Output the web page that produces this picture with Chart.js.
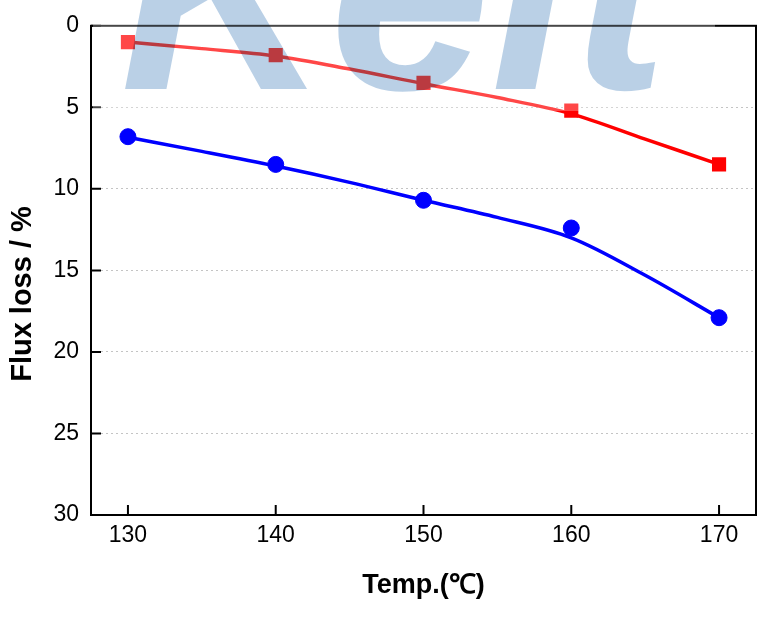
<!DOCTYPE html>
<html>
<head>
<meta charset="utf-8">
<script src="https://cdn.jsdelivr.net/npm/chart.js@4.4.1/dist/chart.umd.min.js"></script>
<style>
  html, body { margin: 0; padding: 0; background: #fff; }
  #wrap { width: 783px; height: 624px; }
</style>
</head>
<body>
<div id="wrap"><canvas id="fluxChart" width="783" height="624"></canvas></div>
<script>
// measured points
const temps = [130, 140, 150, 160, 170];
const redLoss = [1.0, 1.8, 3.5, 5.2, 8.5];
const blueLoss = [6.8, 8.5, 10.7, 12.4, 17.9];

// fitted curves
const fitTemps = [130, 135, 140, 145, 150, 155, 160, 165, 170];
const redFit = [1.0, 1.4, 1.85, 2.65, 3.55, 4.4, 5.4, 6.95, 8.5];
const blueFit = [6.84, 7.7, 8.6, 9.6, 10.7, 11.75, 13.0, 15.3, 17.9];

const xTicks = [130, 140, 150, 160, 170];
const yTicks = [0, 5, 10, 15, 20, 25, 30];

const xTitle = 'Temp.(\u2103)';
const yTitle = 'Flux loss / %';

function toPoints(xs, ys) {
    return xs.map((x, i) => ({ x: x, y: ys[i] }));
}

const framePlugin = {
    id: 'frame',
    afterDatasetsDraw(chart) {
        const { ctx, chartArea: a, scales } = chart;
        ctx.save();
        ctx.strokeStyle = '#000';
        ctx.lineWidth = 2;
        ctx.strokeRect(a.left, a.top, a.right - a.left, a.bottom - a.top);
        ctx.beginPath();
        yTicks.forEach(v => {
            const y = scales.y.getPixelForValue(v);
            ctx.moveTo(a.left, y);
            ctx.lineTo(a.left + 10, y);
        });
        xTicks.forEach(v => {
            const x = scales.x.getPixelForValue(v);
            ctx.moveTo(x, a.bottom);
            ctx.lineTo(x, a.bottom - 10);
        });
        ctx.stroke();

        // axis titles
        ctx.fillStyle = '#000';
        ctx.font = 'bold 27px "Liberation Sans", Arial, sans-serif';
        ctx.textAlign = 'center';
        ctx.textBaseline = 'alphabetic';
        ctx.fillText(xTitle, (a.left + a.right) / 2, 593);
        ctx.translate(23, 294);
        ctx.rotate(-Math.PI / 2);
        ctx.textBaseline = 'middle';
        ctx.font = 'bold 29px "Liberation Sans", Arial, sans-serif';
        ctx.fillText(yTitle, 0, 0);
        ctx.restore();
    },
    afterDraw(chart) {
        // faint "Keit" watermark band over the top of the plot
        const ctx = chart.ctx;
        ctx.save();
        ctx.beginPath();
        ctx.rect(93, 0, 622, 111);
        ctx.clip();
        ctx.fillStyle = 'rgba(255,255,255,0.28)';
        ctx.fillRect(93, 0, 622, 111);
        ctx.globalCompositeOperation = 'multiply';
        ctx.fillStyle = 'rgb(186,208,230)';
        ctx.font = 'bold italic 290px "Liberation Sans", Arial, sans-serif';
        ctx.textBaseline = 'alphabetic';
        ctx.textAlign = 'left';
        ctx.fillText('Keit', 120, 89);
        ctx.restore();
    }
};

function drawChart() {
    const ctx = document.getElementById('fluxChart').getContext('2d');
    const tickFont = { family: '"Liberation Sans", Arial, sans-serif', size: 23 };

    new Chart(ctx, {
        type: 'scatter',
        data: {
            datasets: [
                {
                    label: 'red points',
                    data: toPoints(temps, redLoss),
                    showLine: false,
                    pointStyle: 'rect',
                    pointRadius: 10,
                    pointBackgroundColor: '#ff0000',
                    pointBorderColor: '#ff0000',
                    pointBorderWidth: 0,
                    order: 1
                },
                {
                    label: 'blue points',
                    data: toPoints(temps, blueLoss),
                    showLine: false,
                    pointStyle: 'circle',
                    pointRadius: 8,
                    pointBackgroundColor: '#0000ff',
                    pointBorderColor: '#0000ff',
                    pointBorderWidth: 1,
                    order: 1
                },
                {
                    label: 'red fit',
                    data: toPoints(fitTemps, redFit),
                    showLine: true,
                    borderColor: '#ff0000',
                    borderWidth: 3.5,
                    pointRadius: 0,
                    cubicInterpolationMode: 'monotone',
                    order: 2
                },
                {
                    label: 'blue fit',
                    data: toPoints(fitTemps, blueFit),
                    showLine: true,
                    borderColor: '#0000ff',
                    borderWidth: 3.5,
                    pointRadius: 0,
                    cubicInterpolationMode: 'monotone',
                    order: 2
                }
            ]
        },
        options: {
            responsive: false,
            animation: false,
            devicePixelRatio: 1,
            layout: { padding: { left: 0, top: 24, right: 27, bottom: 0 } },
            plugins: {
                legend: { display: false },
                tooltip: { enabled: false }
            },
            scales: {
                x: {
                    type: 'linear',
                    min: 127.5,
                    max: 172.5,
                    afterBuildTicks: s => { s.ticks = xTicks.map(v => ({ value: v })); },
                    afterFit: s => { s.height = 109; },
                    grid: { display: false, drawTicks: false },
                    border: { display: false },
                    ticks: { font: tickFont, color: '#000', padding: 7, maxRotation: 0 }
                },
                y: {
                    type: 'linear',
                    reverse: true,
                    min: 0,
                    max: 30,
                    afterBuildTicks: s => { s.ticks = yTicks.map(v => ({ value: v })); },
                    afterFit: s => { s.width = 91; },
                    grid: {
                        drawTicks: false,
                        lineWidth: 1,
                        color: c => (c.tick && (c.tick.value === 0 || c.tick.value === 30)) ? 'rgba(0,0,0,0)' : '#c4c4c4'
                    },
                    border: { display: false, dash: [2, 3] },
                    ticks: { font: tickFont, color: '#000', padding: 12 }
                }
            }
        },
        plugins: [framePlugin]
    });
}

document.addEventListener('DOMContentLoaded', () => {
    drawChart();
});
</script>
</body>
</html>
